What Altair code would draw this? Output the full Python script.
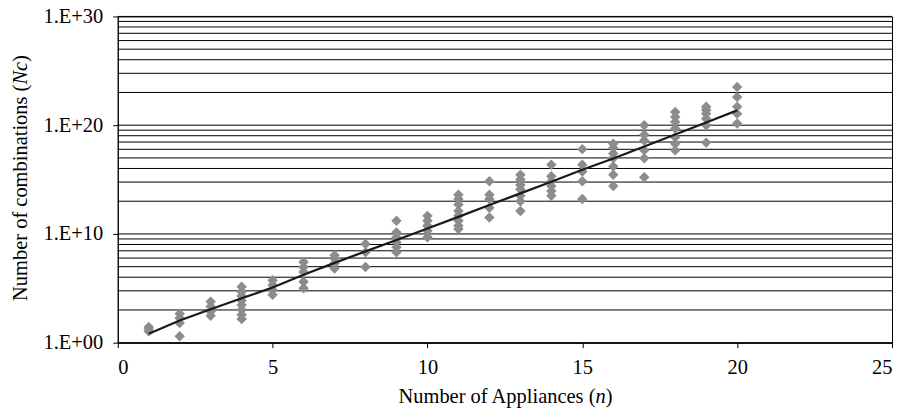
import altair as alt
import pandas as pd

# ---- data (Nc values, log-scale) ----
point_n = [1, 1, 1,
           2, 2, 2, 2,
           3, 3, 3, 3,
           4, 4, 4, 4, 4, 4, 4, 4,
           5, 5, 5, 5,
           6, 6, 6, 6, 6,
           7, 7, 7, 7,
           8, 8, 8,
           9, 9, 9, 9, 9, 9,
           10, 10, 10, 10, 10,
           11, 11, 11, 11, 11, 11, 11, 11,
           12, 12, 12, 12, 12,
           13, 13, 13, 13, 13, 13, 13,
           14, 14, 14, 14, 14, 14,
           15, 15, 15, 15, 15,
           16, 16, 16, 16, 16, 16, 16,
           17, 17, 17, 17, 17, 17,
           18, 18, 18, 18, 18, 18, 18,
           19, 19, 19, 19, 19, 19,
           20, 20, 20, 20, 20]
point_nc = [1.1e1, 1.8e1, 2.8e1,
            4.7e2, 1.9e2, 6.6e1, 4.0e0,
            6.0e3, 2.1e3, 7.4e2, 3.0e2,
            1.4e5, 4.9e4, 2.0e4, 7.4e3, 3.0e3, 1.1e3, 3.7e2, 1.5e2,
            5.6e5, 2.0e5, 7.1e4, 2.5e4,
            2.6e7, 9.1e6, 3.2e6, 4.0e5, 1.0e5,
            1.1e8, 5.4e7, 1.9e7, 6.6e6,
            1.2e9, 2.1e8, 9.1e6,
            1.6e11, 1.4e10, 5.0e9, 1.7e9, 6.0e8, 2.1e8,
            4.6e11, 1.6e11, 5.6e10, 2.0e10, 5.0e9,
            4.0e13, 1.6e13, 5.0e12, 1.3e12, 4.6e11, 1.6e11, 5.6e10, 2.8e10,
            7.1e14, 4.0e13, 1.6e13, 2.5e12, 3.2e11,
            2.8e15, 1.0e15, 3.2e14, 1.3e14, 3.2e13, 1.0e13, 1.3e12,
            2.3e16, 2.0e15, 7.1e14, 2.5e14, 8.7e13, 3.2e13,
            6.3e17, 2.3e16, 5.6e15, 7.1e14, 1.6e13,
            2.0e18, 7.9e17, 2.5e17, 9.1e16, 1.6e16, 2.8e15, 2.5e14,
            1.0e20, 1.3e19, 4.0e18, 5.0e17, 9.1e16, 1.6e15,
            1.6e21, 5.6e20, 2.0e20, 5.0e19, 7.9e18, 2.0e18, 5.0e17,
            5.0e21, 2.5e21, 1.1e21, 4.0e20, 1.0e20, 2.5e18,
            3.2e23, 4.0e22, 5.0e21, 1.1e21, 1.4e20]

line_n = [1, 2, 3, 4, 5, 6, 7, 8, 9, 10,
          11, 12, 13, 14, 15, 16, 17, 18, 19, 20]
line_nc = [6.6e0, 1.1e2, 1.2e3, 1.2e4, 1.2e5, 1.8e6, 2.2e7, 2.5e8, 2.8e9, 3.2e10,
           3.7e11, 4.6e12, 5.4e13, 6.3e14, 7.9e15, 8.5e16, 1.1e18, 1.4e19, 1.8e20, 2.3e21]

x_ticks = [0, 5, 10, 15, 20, 25]
y_major = [1e0, 1e10, 1e20, 1e30]
# Excel-style minor gridlines for a log axis of base 1E+10: k * base^d
grid_k = [1, 2, 3, 4, 5, 6, 7, 8, 9]
grid_vals = [float(k ** 10) * 10.0 ** (10 * d) for d in range(3) for k in grid_k] + [1e30]

# ---- layout ----
W, H = 776, 327
PAD_TOP = 8
FONT = "Liberation Serif"
FS = 20.5

points_df = pd.DataFrame({"n": point_n, "nc": point_nc})
line_df = pd.DataFrame({"n": line_n, "nc": line_nc})
grid_df = pd.DataFrame({"nc": grid_vals})
one = pd.DataFrame({"a": [0]})

yscale = alt.Scale(type="log", domain=[1, 1e30], nice=False)
xscale = alt.Scale(domain=[0, 25], nice=False)

y_enc = alt.Y("nc:Q", scale=yscale,
              axis=alt.Axis(values=y_major, title=None, grid=False,
                            labelExpr="'1.E+' + format(round(log(datum.value)/LN10), '02d')",
                            labelFont=FONT, labelFontSize=FS, labelColor="black",
                            tickSize=5, tickColor="black", labelPadding=10,
                            domainColor="black"))
x_enc = alt.X("n:Q", scale=xscale,
              axis=alt.Axis(values=x_ticks, title=None, grid=False,
                            labelFont=FONT, labelFontSize=FS, labelColor="black",
                            tickSize=5, tickColor="black", labelPadding=9.5,
                            domainColor="black"))

grid = alt.Chart(grid_df).mark_rule(color="black", strokeWidth=1).encode(y=y_enc)

pts = alt.Chart(points_df).mark_point(shape="diamond", filled=True, size=110,
                                      color="#8c8c8c", opacity=1).encode(x=x_enc, y=y_enc)

line = alt.Chart(line_df).mark_line(color="#1a1a1a", strokeWidth=2.2).encode(x=x_enc, y=y_enc)

# x title with italic n
xt_cx, xt_y = 388, 387
xt_w = (9.692 + 0.5 + 0.333) * FS
xt_a = xt_cx - xt_w / 2 + 9.692 * FS

def txt(s, x, y, align, style="normal", angle=0):
    return alt.Chart(one).mark_text(text=s, font=FONT, fontSize=FS, fontStyle=style,
                                    align=align, baseline="alphabetic", angle=angle,
                                    color="black").encode(x=alt.value(x), y=alt.value(y))

xt1 = txt("Number of Appliances (", xt_a, xt_y, "right")
xt2 = txt("n", xt_a, xt_y, "left", "italic")
xt3 = txt(")", xt_a + 0.5 * FS, xt_y, "left")

# y title (rotated) with italic Nc
yt_x, yt_cy = -91, 162
yt_bottom = yt_cy + 12.026 * FS / 2
yt_a = yt_bottom - 10.582 * FS
yt1 = txt("Number of combinations (", yt_x, yt_a, "right", angle=270)
yt2 = txt("Nc", yt_x, yt_a, "left", "italic", angle=270)
yt3 = txt(")", yt_x, yt_a - 1.111 * FS, "left", angle=270)

chart = alt.layer(grid, pts, line, xt1, xt2, xt3, yt1, yt2, yt3).properties(
    width=W, height=H,
    autosize=alt.AutoSizeParams(type="none"),
    padding={"left": 110, "top": PAD_TOP, "right": 4, "bottom": 70},
    background="white",
).configure_view(stroke="black", strokeWidth=1)

chart.save("out.html", embed_options={"renderer": "svg", "actions": False})
